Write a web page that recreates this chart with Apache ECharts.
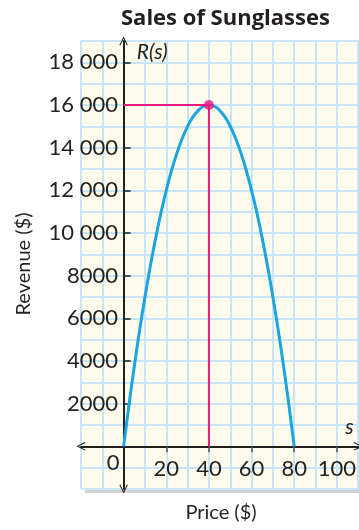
<!DOCTYPE html>
<html>
<head>
<meta charset="utf-8">
<title>Sales of Sunglasses</title>
<script src="https://cdn.jsdelivr.net/npm/echarts@6/dist/echarts.min.js"></script>
<style>
  html, body { margin: 0; padding: 0; background: #ffffff; }
  #chart { width: 359px; height: 530px; }
</style>
</head>
<body>
<div id="chart"></div>
<script>
// Price (s, dollars) and revenue R(s) along the curve
const prices   = [0, 2.5, 5, 7.5, 10, 12.5, 15, 17.5, 20, 22.5, 25, 27.5, 30, 32.5, 35, 37.5, 40,
                  42.5, 45, 47.5, 50, 52.5, 55, 57.5, 60, 62.5, 65, 67.5, 70, 72.5, 75, 77.5, 80];
const revenues = [0, 1940, 3750, 5440, 7000, 8440, 9750, 10940, 12000, 12940, 13750, 14440, 15000, 15440, 15750, 15940, 16000,
                  15940, 15750, 15440, 15000, 14440, 13750, 12940, 12000, 10940, 9750, 8440, 7000, 5440, 3750, 1940, 0];

// Maximum revenue point
const peakPrice = 40;
const peakRevenue = 16000;

// Tick marks and labels
const xLabelValues = [0, 20, 40, 60, 80, 100];
const xTickValues = [20, 40, 60, 80, 100];
const yTickValues = [2000, 4000, 6000, 8000, 10000, 12000, 14000, 16000, 18000];

const curveData = prices.map((p, i) => [p, revenues[i]]);
const guideData = [[0, peakRevenue], [peakPrice, peakRevenue], [peakPrice, 0]];

const FONT = 'Lato, "Open Sans", sans-serif';
const INK = '#231f20';
const GRIDLINE = '#c6e6f6';
// open chevron arrowhead for axis ends
const chevron = 'path://M0,10 L5,0 L10,10 L8.9,10.6 L5,2.6 L1.1,10.6 Z';

function fmtThousands(v) {
  if (v >= 10000) {
    const s = String(v);
    return s.slice(0, s.length - 3) + ' ' + s.slice(-3);
  }
  return String(v);
}

const chart = echarts.init(document.getElementById('chart'), null, { renderer: 'canvas' });

chart.setOption({
  animation: false,
  title: {
    text: 'Sales of Sunglasses',
    left: 116,
    top: 3,
    textStyle: { fontFamily: '"Open Sans", sans-serif', fontWeight: 'bold', fontSize: 22, color: INK }
  },
  grid: {
    left: 81, top: 41, width: 278, height: 448,
    show: true,
    backgroundColor: '#fffcee',
    borderWidth: 0,
    shadowColor: '#d2d2d2',
    shadowBlur: 0,
    shadowOffsetX: 4,
    shadowOffsetY: 4
  },
  graphic: [
    {
      type: 'text', x: 221, y: 503,
      style: { text: 'Price ($)', fontFamily: FONT, fontSize: 20, fill: INK, textAlign: 'center' }
    },
    {
      type: 'text', x: 24, y: 264, rotation: Math.PI / 2,
      style: { text: 'Revenue ($)', fontFamily: FONT, fontSize: 20, fill: INK,
               textAlign: 'center', textVerticalAlign: 'middle' }
    }
  ],
  xAxis: [
    {
      type: 'value',
      min: -20, max: 110,
      name: 's',
      nameLocation: 'end',
      nameGap: -13,
      nameTextStyle: {
        fontFamily: FONT, fontStyle: 'italic', fontSize: 21, color: INK,
        verticalAlign: 'bottom', padding: [0, 0, 9, 0]
      },
      axisLine: {
        onZero: true,
        lineStyle: { color: INK, width: 2 },
        symbol: [chevron, chevron],
        symbolSize: [13, 9]
      },
      axisTick: {
        show: true, inside: false, length: 6,
        customValues: xTickValues,
        lineStyle: { color: '#555555', width: 1.5 }
      },
      axisLabel: {
        customValues: xLabelValues,
        margin: -31,
        fontFamily: FONT, fontSize: 22, color: INK,
        formatter: v => v === 0 ? '{z|0}' : String(v),
        rich: { z: { fontFamily: FONT, fontSize: 22, color: INK, width: 34, align: 'left', lineHeight: 10 } }
      },
      splitLine: { show: false }
    },
    {
      // background grid: one line every $10
      type: 'value',
      min: -20, max: 110, interval: 10,
      axisLine: { show: false, onZero: false },
      axisTick: { show: false },
      axisLabel: { show: false },
      splitLine: { show: true, lineStyle: { color: GRIDLINE, width: 2 } }
    }
  ],
  yAxis: [
    {
      type: 'value',
      min: -2000, max: 19000,
      name: 'R(s)',
      nameLocation: 'end',
      nameGap: -22,
      nameTextStyle: {
        fontFamily: FONT, fontStyle: 'italic', fontSize: 21, color: INK,
        align: 'left', verticalAlign: 'bottom', padding: [0, 0, 0, 13]
      },
      axisLine: {
        onZero: true,
        lineStyle: { color: INK, width: 2 },
        symbol: [chevron, chevron],
        symbolSize: [13, 9]
      },
      axisTick: {
        show: true, inside: true, length: 7,
        customValues: yTickValues,
        lineStyle: { color: INK, width: 1.5 }
      },
      axisLabel: {
        customValues: yTickValues,
        margin: -37,
        fontFamily: FONT, fontSize: 22, color: INK,
        formatter: fmtThousands
      },
      splitLine: { show: false }
    },
    {
      // background grid: one line every $1000
      type: 'value',
      min: -2000, max: 19000, interval: 1000,
      axisLine: { show: false, onZero: false },
      axisTick: { show: false },
      axisLabel: { show: false },
      splitLine: { show: true, lineStyle: { color: GRIDLINE, width: 2 } }
    }
  ],
  series: [
    {
      type: 'line',
      name: 'R(s)',
      data: curveData,
      smooth: true,
      showSymbol: false,
      lineStyle: { color: '#1aa5e2', width: 3 },
      z: 3
    },
    {
      type: 'line',
      name: 'guide',
      data: guideData,
      showSymbol: false,
      lineStyle: { color: '#e8197f', width: 2 },
      z: 4
    },
    {
      type: 'scatter',
      name: 'maximum',
      data: [[peakPrice, peakRevenue]],
      symbolSize: 10,
      itemStyle: { color: '#e8197f' },
      z: 5
    }
  ]
});
</script>
</body>
</html>
